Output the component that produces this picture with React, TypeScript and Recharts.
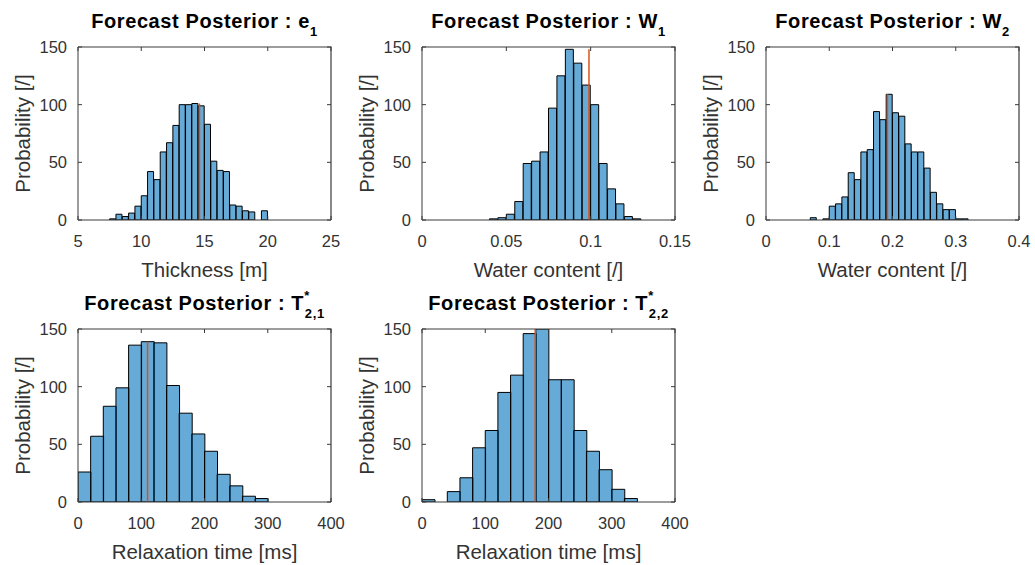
import { ComposedChart, Bar, XAxis, YAxis, ReferenceLine } from 'recharts';

// histogram counts, read bin by bin from the figure
const thicknessCounts = [1, 5, 3, 6, 12, 21, 42, 35, 59, 67, 82, 100, 100, 101, 99, 83, 51, 43, 42, 13, 12, 8, 7, 0, 8];
const water1Counts = [1, 2, 5, 16, 49, 51, 59, 97, 125, 148, 136, 117, 100, 49, 27, 14, 3, 1];
const water2Counts = [2, 0, 1, 12, 14, 20, 41, 35, 59, 61, 94, 87, 109, 93, 90, 66, 59, 59, 45, 24, 14, 9, 9, 1, 1];
const t21Counts = [26, 57, 83, 99, 136, 139, 138, 101, 77, 59, 44, 24, 14, 5, 3];
const t22Counts = [2, 0, 9, 21, 47, 62, 95, 110, 146, 150, 106, 106, 62, 44, 28, 11, 3];

// first bin edge and bin width of each histogram
const binStarts = [7.5, 0.04, 0.07, 0, 0];
const binWidths = [0.5, 0.005, 0.01, 20, 20];

// true values (orange lines)
const trueValues = [14.6, 0.099, 0.192, 110, 179];

const xDomains: [number, number][] = [[5, 25], [0, 0.15], [0, 0.4], [0, 400], [0, 400]];
const xTicks = [
  [5, 10, 15, 20, 25],
  [0, 0.05, 0.1, 0.15],
  [0, 0.1, 0.2, 0.3, 0.4],
  [0, 100, 200, 300, 400],
  [0, 100, 200, 300, 400],
];
const yMax = 150;
const yTicks = [0, 50, 100, 150];
const xLabels = ['Thickness [m]', 'Water content [/]', 'Water content [/]', 'Relaxation time [ms]', 'Relaxation time [ms]'];
const yLabel = 'Probability [/]';
const titleMain = 'Forecast Posterior : ';
const titleSymbols = ['e', 'W', 'W', 'T', 'T'];
const titleSups = ['', '', '', '*', '*'];
const titleSubs = ['1', '1', '2', '2,1', '2,2'];

const FONT = '"Liberation Sans", Arial, Helvetica, sans-serif';
const AX = '#3a3a3a';
const TXT = '#333333';

// axes boxes on the page
const AXW = 253;
const AXH = 173;
const TICK = 4;
const panelPos = [
  [78, 47],
  [422, 47],
  [766, 47],
  [78, 329],
  [422, 329],
];
const LEFT = 70;
const TOP = 10;
const RIGHT = 16;
const BOTTOM = 62;

const makeBins = (counts: number[], start: number, width: number) =>
  counts.map((n, i) => ({ c: start + (i + 0.5) * width, n }));

const allCounts = [thicknessCounts, water1Counts, water2Counts, t21Counts, t22Counts];

const Panel = ({ idx }: { idx: number }) => {
  const [ax, ay] = panelPos[idx];
  const counts = allCounts[idx];
  const data = makeBins(counts, binStarts[idx], binWidths[idx]);
  const lineTop = Math.max(...counts);
  const tickStyle = { fill: TXT, fontSize: 16.5, fontFamily: FONT };
  return (
    <div style={{ position: 'absolute', left: ax - LEFT, top: ay - TOP }}>
      <ComposedChart
        width={LEFT + AXW + RIGHT}
        height={TOP + AXH + BOTTOM}
        data={data}
        margin={{ top: TOP, right: RIGHT, left: 0, bottom: 0 }}
        barCategoryGap={0}
        barGap={0}
      >
        <XAxis
          dataKey="c"
          type="number"
          domain={xDomains[idx]}
          ticks={xTicks[idx]}
          allowDataOverflow
          interval={0}
          height={BOTTOM}
          tickSize={-TICK}
          tickMargin={19}
          tick={tickStyle}
          axisLine={{ stroke: AX }}
          tickLine={{ stroke: AX }}
          label={{
            content: (p: any) => (
              <text
                x={p.viewBox.x + p.viewBox.width / 2}
                y={p.viewBox.y + 57}
                textAnchor="middle"
                fill={TXT}
                fontSize={20.5}
                fontFamily={FONT}
              >
                {xLabels[idx]}
              </text>
            ),
          }}
        />
        <YAxis
          type="number"
          domain={[0, yMax]}
          ticks={yTicks}
          allowDataOverflow
          interval={0}
          width={LEFT}
          tickSize={-TICK}
          tickMargin={15}
          tick={tickStyle}
          axisLine={{ stroke: AX }}
          tickLine={{ stroke: AX }}
          label={{
            content: (p: any) => {
              const cx = p.viewBox.x + 14;
              const cy = p.viewBox.y + p.viewBox.height / 2;
              return (
                <text
                  x={cx}
                  y={cy}
                  transform={`rotate(-90 ${cx} ${cy})`}
                  textAnchor="middle"
                  dominantBaseline="central"
                  fill={TXT}
                  fontSize={20.5}
                  fontFamily={FONT}
                >
                  {yLabel}
                </text>
              );
            },
          }}
        />
        <ReferenceLine
          segment={[
            { x: trueValues[idx], y: 0 },
            { x: trueValues[idx], y: lineTop },
          ]}
          stroke="#D95319"
          strokeWidth={1.5}
        />
        <Bar
          dataKey="n"
          fill="#0072BD"
          fillOpacity={0.6}
          stroke="#000000"
          strokeWidth={1}
          isAnimationActive={false}
        />
      </ComposedChart>
    </div>
  );
};

// page overlay: titles plus the top/right box edges with inward ticks
const Overlay = () => (
  <svg width={1035} height={565} style={{ position: 'absolute', left: 0, top: 0, pointerEvents: 'none' }}>
    {panelPos.map(([ax, ay], i) => {
      const [x0, x1] = xDomains[i];
      const fx = (v: number) => ax + ((v - x0) / (x1 - x0)) * AXW;
      const fy = (v: number) => ay + AXH - (v / yMax) * AXH;
      return (
        <g key={i}>
          <path
            d={`M ${ax} ${ay} L ${ax + AXW} ${ay} L ${ax + AXW} ${ay + AXH}`}
            fill="none"
            stroke={AX}
            strokeWidth={1.2}
          />
          {xTicks[i].map((t) => (
            <line key={`t${t}`} x1={fx(t)} x2={fx(t)} y1={ay} y2={ay + TICK} stroke={AX} strokeWidth={1} />
          ))}
          {yTicks.map((t) => (
            <line key={`r${t}`} x1={ax + AXW} x2={ax + AXW - TICK} y1={fy(t)} y2={fy(t)} stroke={AX} strokeWidth={1} />
          ))}
          <text
            x={ax + AXW / 2}
            y={ay - 19}
            textAnchor="middle"
            fontFamily={FONT}
            fontWeight="bold"
            fontSize={20}
            letterSpacing={0.6}
            fill="#000"
          >
            {titleMain + titleSymbols[i]}
            {titleSups[i] ? (
              <>
                <tspan fontSize={13} dy={-10}>{titleSups[i]}</tspan>
                <tspan fontSize={13} dx={-5} dy={18}>{titleSubs[i]}</tspan>
              </>
            ) : (
              <tspan fontSize={13} dy={8}>{titleSubs[i]}</tspan>
            )}
          </text>
        </g>
      );
    })}
  </svg>
);

export default function App() {
  return (
    <div
      style={{
        position: 'absolute',
        left: 0,
        top: 0,
        width: 1035,
        height: 565,
        overflow: 'hidden',
        background: '#fff',
        fontFamily: FONT,
      }}
    >
      {[0, 1, 2, 3, 4].map((i) => (
        <Panel key={i} idx={i} />
      ))}
      <Overlay />
    </div>
  );
}
